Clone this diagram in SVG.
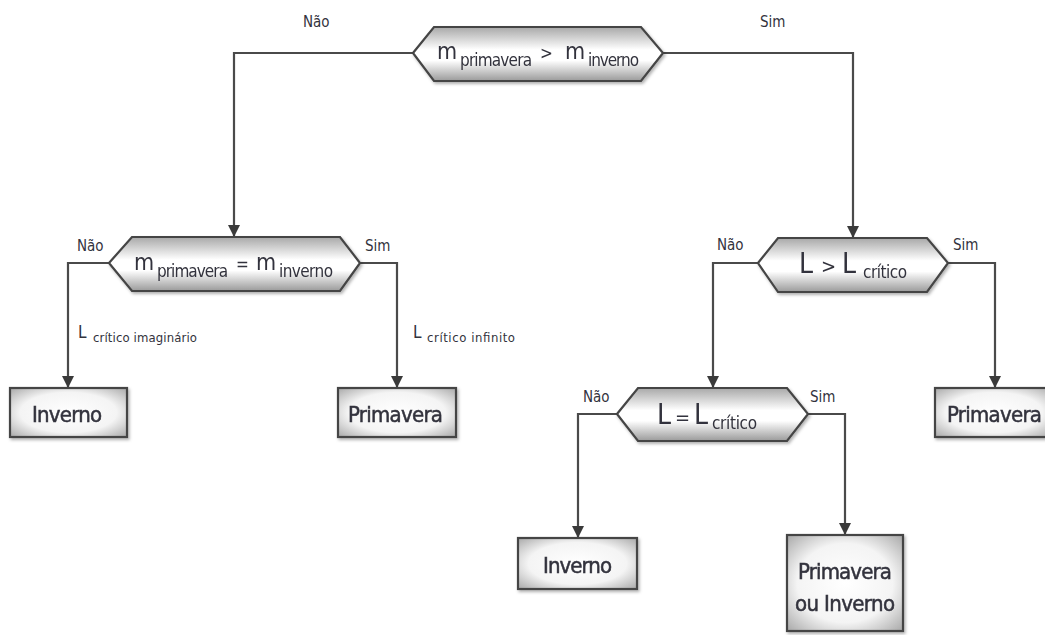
<svg xmlns="http://www.w3.org/2000/svg" width="1045" height="635" viewBox="0 0 1045 635">
  <style>
    .lbl { font-family: "DejaVu Sans Condensed", "Liberation Sans Narrow", "Open Sans", sans-serif; fill: #33333d; }
    .yn { font-size: 15px; }
    .box { fill: url(#boxGrad); stroke: #444; stroke-width: 2.2; }
    .hex { fill: url(#hexGrad); stroke: #444; stroke-width: 2.2; }
    .wire { fill: none; stroke: #4a4a4a; stroke-width: 2.2; }
    .big { font-size: 23px; }
    .sub { font-size: 17px; }
    .ell { font-size: 28px; }
    .cap { font-size: 22px; stroke: #33333d; stroke-width: 0.5; }
  </style>
  <defs>
    <linearGradient id="hexGrad" x1="0" y1="0" x2="0" y2="1">
      <stop offset="0" stop-color="#a8a8a8"/>
      <stop offset="0.42" stop-color="#ffffff"/>
      <stop offset="0.62" stop-color="#ffffff"/>
      <stop offset="1" stop-color="#9a9a9a"/>
    </linearGradient>
    <radialGradient id="boxGrad" cx="0.5" cy="0.5" r="0.75">
      <stop offset="0" stop-color="#ffffff"/>
      <stop offset="0.55" stop-color="#f4f4f4"/>
      <stop offset="1" stop-color="#9c9c9c"/>
    </radialGradient>
    <filter id="shade" x="-10%" y="-10%" width="125%" height="130%">
      <feDropShadow dx="1.5" dy="2" stdDeviation="1.5" flood-color="#000" flood-opacity="0.3"/>
    </filter>
    <marker id="arrow" markerWidth="12" markerHeight="14" refX="11" refY="6" orient="auto" markerUnits="userSpaceOnUse">
      <path d="M0,0 L12,6 L0,12 Z" fill="#3a3a3a"/>
    </marker>
  </defs>

  <!-- connectors -->
  <g id="connectors">
    <polyline class="wire" points="413,53 234,53 234,236" marker-end="url(#arrow)"/>
    <polyline class="wire" points="663,53 853,53 853,237" marker-end="url(#arrow)"/>
    <polyline class="wire" points="109,263 68,263 68,387" marker-end="url(#arrow)"/>
    <polyline class="wire" points="360,263 397,263 397,387" marker-end="url(#arrow)"/>
    <polyline class="wire" points="758,263 713,263 713,387" marker-end="url(#arrow)"/>
    <polyline class="wire" points="948,263 995,263 995,387" marker-end="url(#arrow)"/>
    <polyline class="wire" points="617,414 578,414 578,537" marker-end="url(#arrow)"/>
    <polyline class="wire" points="808,414 845,414 845,534" marker-end="url(#arrow)"/>

    <text class="lbl yn" x="303" y="27">Não</text>
    <text class="lbl yn" x="760" y="27">Sim</text>
    <text class="lbl yn" x="77" y="251">Não</text>
    <text class="lbl yn" x="365" y="251">Sim</text>
    <text class="lbl yn" x="717" y="250">Não</text>
    <text class="lbl yn" x="953" y="250">Sim</text>
    <text class="lbl yn" x="583" y="402">Não</text>
    <text class="lbl yn" x="810" y="402">Sim</text>

    <text class="lbl" x="78" y="338"><tspan font-size="17">L</tspan><tspan font-size="13" x="93" dy="4" textLength="104">crítico imaginário</tspan></text>
    <text class="lbl" x="413" y="338"><tspan font-size="17">L</tspan><tspan font-size="13" x="427" dy="4" textLength="88">crítico infinito</tspan></text>
  </g>

  <!-- decision: m primavera > m inverno -->
  <g id="dec-top" filter="url(#shade)">
    <polygon class="hex" points="413,53 434,27 641,27 663,53 641,81 434,81"/>
    <text class="lbl" y="59"><tspan class="big" x="437">m</tspan><tspan class="sub" x="460" dy="7" textLength="72">primavera</tspan><tspan class="sub" x="540" dy="-7">&gt;</tspan><tspan class="big" x="565">m</tspan><tspan class="sub" x="588" dy="7" textLength="51">inverno</tspan></text>
  </g>

  <!-- decision: m primavera = m inverno -->
  <g id="dec-left" filter="url(#shade)">
    <polygon class="hex" points="109,263 132,237 340,237 360,263 340,291 132,291"/>
    <text class="lbl" y="270"><tspan class="big" x="134">m</tspan><tspan class="sub" x="157" dy="7" textLength="71">primavera</tspan><tspan class="sub" x="236" dy="-7">=</tspan><tspan class="big" x="256">m</tspan><tspan class="sub" x="279" dy="7" textLength="54">inverno</tspan></text>
  </g>

  <!-- decision: L > L critico -->
  <g id="dec-right" filter="url(#shade)">
    <polygon class="hex" points="758,263 778,238 927,238 948,263 927,292 778,292"/>
    <text class="lbl" y="273"><tspan class="ell" x="799">L</tspan><tspan font-size="20" x="821">&gt;</tspan><tspan class="ell" x="842">L</tspan><tspan class="sub" x="863" dy="5" textLength="44">crítico</tspan></text>
  </g>

  <!-- decision: L = L critico -->
  <g id="dec-low" filter="url(#shade)">
    <polygon class="hex" points="617,414 638,388 787,388 808,414 787,441 638,441"/>
    <text class="lbl" y="424"><tspan class="ell" x="657">L</tspan><tspan font-size="20" x="675">=</tspan><tspan class="ell" x="694">L</tspan><tspan class="sub" x="712" dy="5" textLength="45">crítico</tspan></text>
  </g>

  <!-- outcomes -->
  <g id="out-inverno-left" filter="url(#shade)">
    <rect class="box" x="10" y="388" width="117" height="49"/>
    <text class="lbl cap" x="32" y="422" textLength="70">Inverno</text>
  </g>
  <g id="out-primavera-mid" filter="url(#shade)">
    <rect class="box" x="338" y="388" width="118" height="49"/>
    <text class="lbl cap" x="348" y="422" textLength="95">Primavera</text>
  </g>
  <g id="out-primavera-right" filter="url(#shade)">
    <rect class="box" x="935" y="388" width="118" height="49"/>
    <text class="lbl cap" x="947" y="422" textLength="95">Primavera</text>
  </g>
  <g id="out-inverno-low" filter="url(#shade)">
    <rect class="box" x="518" y="538" width="119" height="51"/>
    <text class="lbl cap" x="543" y="573" textLength="69">Inverno</text>
  </g>
  <g id="out-either" filter="url(#shade)">
    <rect class="box" x="787" y="535" width="116" height="96"/>
    <text class="lbl cap" x="798" y="579" textLength="94">Primavera</text>
    <text class="lbl cap" x="795" y="611" textLength="100">ou Inverno</text>
  </g>
</svg>
